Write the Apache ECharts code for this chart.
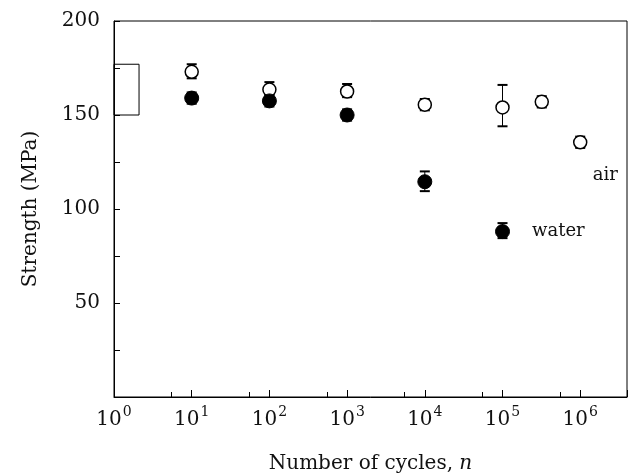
<!DOCTYPE html>
<html>
<head>
<style>
  * { margin: 0; padding: 0; }
  #container { width: 629px; height: 475px; background: #fff; }
</style>
</head>
<body>
<div id="container"></div>
<script src="https://cdn.jsdelivr.net/npm/echarts@6/dist/echarts.min.js"></script>
<script>
    var serif = 'DejaVu Serif';

    // air (open symbols)
    var airN = [10, 100, 1000, 10000, 100000, 320000, 1000000];
    var airS = [173, 163.5, 162.5, 155.5, 154, 157, 135.5];
    var airLo = [169.5, 160.5, 159.5, 152.5, 144, 154, 132.5];
    var airHi = [177, 167.5, 166.5, 158.5, 166, 160, 138.5];

    // water (filled symbols)
    var waterN = [10, 100, 1000, 10000, 100000];
    var waterS = [159, 157.5, 150, 114.5, 88];
    var waterLo = [156, 154.5, 147, 109.5, 84.5];
    var waterHi = [162, 160.5, 153, 120, 92.5];

    // reference box near n = 1
    var boxN = [1, 2.1];
    var boxS = [150, 177];

    var xTicks = ['0', '1', '2', '3', '4', '5', '6'];

    function pairs(n, s) {
        var out = [];
        for (var i = 0; i < n.length; i++) out.push([n[i], s[i]]);
        return out;
    }
    function bars(n, lo, hi) {
        var out = [];
        for (var i = 0; i < n.length; i++) out.push([n[i], lo[i], hi[i]]);
        return out;
    }

    var airData = pairs(airN, airS);
    airData[6] = {
        value: airData[6],
        label: { show: true, formatter: 'air', position: 'bottom', offset: [25, 3] }
    };
    var waterData = pairs(waterN, waterS);
    waterData[4] = {
        value: waterData[4],
        label: { show: true, formatter: 'water', position: 'right', distance: 22 }
    };

    function errorBar(params, api) {
        var lo = api.coord([api.value(0), api.value(1)]);
        var hi = api.coord([api.value(0), api.value(2)]);
        var w = 5;
        var st = { stroke: '#000', lineWidth: 1 };
        var cap = { stroke: '#000', lineWidth: 2 };
        return {
            type: 'group',
            children: [
                { type: 'line', shape: { x1: lo[0], y1: lo[1], x2: hi[0], y2: hi[1] }, style: st },
                { type: 'line', shape: { x1: hi[0] - w, y1: hi[1], x2: hi[0] + w, y2: hi[1] }, style: cap },
                { type: 'line', shape: { x1: lo[0] - w, y1: lo[1], x2: lo[0] + w, y2: lo[1] }, style: cap }
            ]
        };
    }

    var dom = document.getElementById('container');
    var myChart = echarts.init(dom);
    var option = {
        animation: false,
        backgroundColor: '#fff',
        textStyle: { fontFamily: serif, color: '#111' },
        grid: {
            left: 114, right: 2, top: 21, bottom: 78,
            outerBoundsMode: 'none',
            show: true, borderColor: '#000', borderWidth: 1
        },
        xAxis: {
            type: 'log',
            logBase: 10,
            min: 1,
            max: 4000000,
            name: 'Number of cycles, {i|n}',
            nameLocation: 'middle',
            nameGap: 47,
            nameTextStyle: {
                fontFamily: serif, fontSize: 20, color: '#111',
                rich: { i: { fontFamily: serif, fontStyle: 'italic', fontSize: 20, color: '#111' } }
            },
            axisLine: { lineStyle: { color: '#000', width: 1 } },
            axisTick: { inside: true, length: 7, lineStyle: { color: '#000' } },
            minorTick: { show: true, splitNumber: 2, length: 5, lineStyle: { color: '#000' } },
            splitLine: { show: false },
            axisLabel: {
                showMaxLabel: false,
                margin: 3,
                formatter: function (v) {
                    var e = Math.round(Math.log10(v));
                    return '{b|10}{s|' + xTicks[e] + '}';
                },
                rich: {
                    b: { fontFamily: serif, fontSize: 20, color: '#111', lineHeight: 26, verticalAlign: 'top' },
                    s: { fontFamily: serif, fontSize: 14, color: '#111', lineHeight: 14, verticalAlign: 'bottom', padding: [0, 0, 0, 1] }
                }
            }
        },
        yAxis: {
            type: 'value',
            min: 0,
            max: 200,
            interval: 50,
            name: 'Strength (MPa)',
            nameLocation: 'middle',
            nameGap: 56,
            nameTextStyle: { fontFamily: serif, fontSize: 20, color: '#111' },
            axisLine: { show: true, lineStyle: { color: '#000', width: 1 } },
            axisTick: { inside: true, length: 6, lineStyle: { color: '#000' } },
            minorTick: { show: true, splitNumber: 2, length: 6, lineStyle: { color: '#000' } },
            splitLine: { show: false },
            axisLabel: {
                showMinLabel: false,
                margin: 14,
                fontFamily: serif, fontSize: 20, color: '#111'
            }
        },
        series: [
            {
                type: 'custom',
                renderItem: errorBar,
                encode: { x: 0, y: [1, 2] },
                data: bars(airN, airLo, airHi),
                z: 1
            },
            {
                type: 'custom',
                renderItem: errorBar,
                encode: { x: 0, y: [1, 2] },
                data: bars(waterN, waterLo, waterHi),
                z: 1
            },
            {
                name: 'air',
                type: 'scatter',
                symbol: 'circle',
                symbolSize: 13,
                itemStyle: { color: '#fff', borderColor: '#000', borderWidth: 1.5, opacity: 1 },
                label: { fontFamily: serif, fontSize: 18, color: '#111' },
                data: airData,
                z: 3,
                markArea: {
                    silent: true,
                    itemStyle: { color: 'rgba(0,0,0,0)', borderColor: '#000', borderWidth: 1 },
                    data: [[{ coord: [boxN[0], boxS[0]] }, { coord: [boxN[1], boxS[1]] }]]
                }
            },
            {
                name: 'water',
                type: 'scatter',
                symbol: 'circle',
                symbolSize: 14,
                itemStyle: { color: '#000', borderColor: '#000', borderWidth: 1, opacity: 1 },
                label: { fontFamily: serif, fontSize: 18, color: '#111' },
                data: waterData,
                z: 3
            }
        ]
    };
    myChart.setOption(option);
</script>
</body>
</html>
